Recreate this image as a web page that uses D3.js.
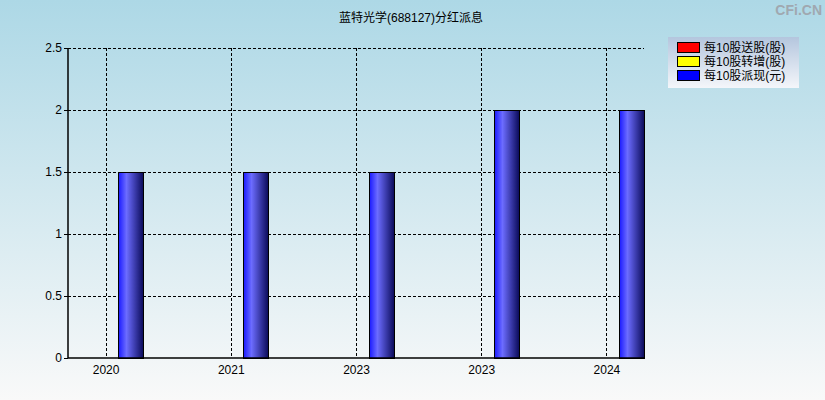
<!DOCTYPE html>
<html lang="zh">
<meta charset="utf-8">
<head>
<title>蓝特光学(688127)分红派息</title>
<script src="https://d3js.org/d3.v7.min.js"></script>
<style>
    body { margin: 0; padding: 0; overflow: hidden; }
    text { font-family: "Liberation Sans", Arial, sans-serif; }
    .cjk { font-family: "Liberation Sans", "Noto Sans CJK SC", sans-serif; }
</style>
</head>
<body>
<div id="chart"></div>
<script>
    // data
    let yearLabels = ["2020", "2021", "2023", "2023", "2024"];
    let songGu = [0, 0, 0, 0, 0];        // 每10股送股(股)
    let zhuanZeng = [0, 0, 0, 0, 0];     // 每10股转增(股)
    let paiXian = [1.5, 1.5, 1.5, 2, 2]; // 每10股派现(元)
    let yTicks = [0, 0.5, 1, 1.5, 2, 2.5];
    let legendNames = ["每10股送股(股)", "每10股转增(股)", "每10股派现(元)"];
    let legendColors = ["#ff0000", "#ffff00", "#0000ff"];

    let W = 825, H = 400;
    let plot = {left: 68, right: 644, top: 48, bottom: 358};

    let svg = d3.select("#chart").append("svg")
        .attr("width", W)
        .attr("height", H);

    let defs = svg.append("defs");
    let bg = defs.append("linearGradient").attr("id", "bg")
        .attr("x1", 0).attr("y1", 0).attr("x2", 0).attr("y2", 1);
    bg.append("stop").attr("offset", "0%").attr("stop-color", "#add8e6");
    bg.append("stop").attr("offset", "100%").attr("stop-color", "#f9f9f9");

    let lg = defs.append("linearGradient").attr("id", "lg")
        .attr("x1", 0).attr("y1", 0).attr("x2", 0).attr("y2", 1);
    lg.append("stop").attr("offset", "0%").attr("stop-color", "#b4c6de");
    lg.append("stop").attr("offset", "100%").attr("stop-color", "#f4f6fa");

    let barGrad = defs.append("linearGradient").attr("id", "bar")
        .attr("x1", 0).attr("y1", 0).attr("x2", 1).attr("y2", 0);
    barGrad.append("stop").attr("offset", "0%").attr("stop-color", "#1a1aff");
    barGrad.append("stop").attr("offset", "32%").attr("stop-color", "#6c6cff");
    barGrad.append("stop").attr("offset", "100%").attr("stop-color", "#0a0a58");

    svg.append("rect").attr("width", W).attr("height", H).attr("fill", "url(#bg)");

    // title + watermark
    svg.append("text").attr("class", "cjk")
        .attr("x", 411).attr("y", 22)
        .attr("text-anchor", "middle")
        .style("font-size", "12px")
        .attr("fill", "#000")
        .text("蓝特光学(688127)分红派息");
    svg.append("text")
        .attr("x", 822).attr("y", 15)
        .attr("text-anchor", "end")
        .style("font-size", "14px").style("font-weight", "bold")
        .attr("fill", "#a0a8b0")
        .text("CFi.CN");

    let x = d3.scaleLinear().domain([-0.3, yearLabels.length - 0.7]).range([plot.left, plot.right]);
    let y = d3.scaleLinear().domain([0, 2.5]).range([plot.bottom, plot.top]);

    // grid
    let grid = svg.append("g").attr("stroke", "#000").attr("stroke-dasharray", "3,2").attr("stroke-width", 1);
    grid.selectAll(".hg").data(yTicks.filter(d => d > 0)).enter().append("line")
        .attr("x1", plot.left).attr("x2", plot.right)
        .attr("y1", d => Math.round(y(d)) + 0.5).attr("y2", d => Math.round(y(d)) + 0.5);
    grid.selectAll(".vg").data(yearLabels.map((d, i) => i)).enter().append("line")
        .attr("x1", d => Math.round(x(d)) + 0.5).attr("x2", d => Math.round(x(d)) + 0.5)
        .attr("y1", plot.top).attr("y2", plot.bottom);

    // bars (only 派现 has non-zero values)
    svg.append("g").selectAll("rect")
        .data(paiXian.map((v, i) => ({i: i, v: v})).filter(d => d.v > 0))
        .enter().append("rect")
        .attr("x", d => Math.round(x(d.i + 0.1)) + 0.5)
        .attr("width", d => Math.round(x(d.i + 0.3)) - Math.round(x(d.i + 0.1)))
        .attr("y", d => Math.round(y(d.v)) + 0.5)
        .attr("height", d => Math.round(y(0)) - Math.round(y(d.v)))
        .attr("fill", "url(#bar)")
        .attr("stroke", "#000").attr("stroke-width", 1);

    // axes
    let yAxis = d3.axisLeft(y).tickValues(yTicks).tickSize(4).tickFormat(d3.format("~g"));
    let yg = svg.append("g").attr("transform", "translate(" + plot.left + ",0)").call(yAxis);
    let xAxis = d3.axisBottom(x).tickValues(yearLabels.map((d, i) => i)).tickSize(0)
        .tickFormat(i => yearLabels[i]);
    let xg = svg.append("g").attr("transform", "translate(0," + plot.bottom + ")").call(xAxis);
    [yg, xg].forEach(g => {
        g.select(".domain").attr("stroke", "#000").attr("stroke-width", 1.5);
        g.selectAll("text").style("font-size", "12px").attr("fill", "#000");
        g.selectAll(".tick line").attr("stroke", "#000");
    });
    yg.selectAll("text").attr("x", -6);
    xg.selectAll("text").attr("dy", "1em").attr("y", 4);
    yg.select(".domain").attr("d", "M0," + plot.top + "V" + plot.bottom);
    xg.select(".domain").attr("d", "M" + plot.left + ",0H" + plot.right);

    // legend
    let leg = svg.append("g").attr("transform", "translate(668,37)");
    leg.append("rect").attr("width", 131).attr("height", 51).attr("fill", "url(#lg)");
    legendNames.forEach((name, i) => {
        leg.append("rect")
            .attr("x", 9.5).attr("y", 5.5 + i * 14)
            .attr("width", 22).attr("height", 10)
            .attr("fill", legendColors[i]).attr("stroke", "#000");
        leg.append("text").attr("class", "cjk")
            .attr("x", 36).attr("y", 14.5 + i * 14)
            .style("font-size", "12px")
            .attr("fill", "#000")
            .text(name);
    });
</script>
</body>
</html>
